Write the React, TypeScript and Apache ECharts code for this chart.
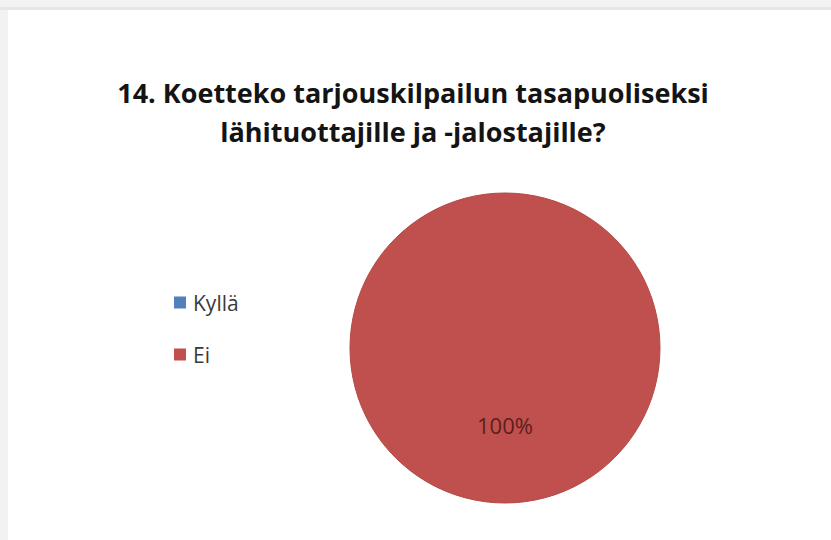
import React, { useEffect, useRef } from "react";
import * as echarts from "echarts";

const titleLines = ["14. Koetteko tarjouskilpailun tasapuoliseksi", "lähituottajille ja -jalostajille?"];
const categories = ["Kyllä", "Ei"];
const values = [0, 100];
const colors = ["#4F81BD", "#C0504D"];

export default function App() {
  const ref = useRef<HTMLDivElement>(null);
  useEffect(() => {
    if (!ref.current) return;
    const chart = echarts.init(ref.current, null, { renderer: "svg" });
    chart.setOption({
      animation: false,
      backgroundColor: "#ffffff",
      title: {
        text: titleLines.join("\n"),
        left: 400,
        top: 58,
        textAlign: "center",
        textStyle: {
          fontFamily: "Open Sans",
          fontWeight: "bold",
          fontSize: 27,
          lineHeight: 39,
          color: "#141414",
        },
      },
      legend: {
        orient: "vertical",
        left: 161,
        top: 277,
        itemWidth: 12,
        itemHeight: 12,
        itemGap: 31,
        icon: "rect",
        selectedMode: false,
        itemStyle: { borderWidth: 0 },
        textStyle: { fontFamily: "Open Sans", fontSize: 21, color: "#3a3a3a", padding: [0, 0, 0, 2] },
        data: categories,
      },
      series: [
        {
          type: "pie",
          center: [497, 338],
          radius: [0, 155],
          startAngle: 90,
          clockwise: true,
          avoidLabelOverlap: false,
          itemStyle: { borderColor: "#b34a47", borderWidth: 1 },
          label: {
            show: true,
            position: "inside",
            formatter: "{d}%",
            fontFamily: "Open Sans",
            fontSize: 22,
            color: "#5c1e1c",
            offset: [0, -4],
          },
          labelLine: { show: false },
          emphasis: { disabled: true },
          data: categories.map((name, i) => ({
            name,
            value: values[i],
            itemStyle: { color: colors[i] },
            label: values[i] === 0 ? { show: false } : undefined,
          })),
        },
      ],
    });
    return () => chart.dispose();
  }, []);
  return (
    <div style={{ position: "fixed", left: 0, top: 0, width: 831, height: 540, background: "#f2f2f2" }}>
      <div style={{ position: "absolute", left: 0, top: 7, width: 831, height: 3, background: "#e6e6e6" }} />
      <div ref={ref} style={{ position: "absolute", left: 8, top: 10, width: 823, height: 530 }} />
    </div>
  );
}
